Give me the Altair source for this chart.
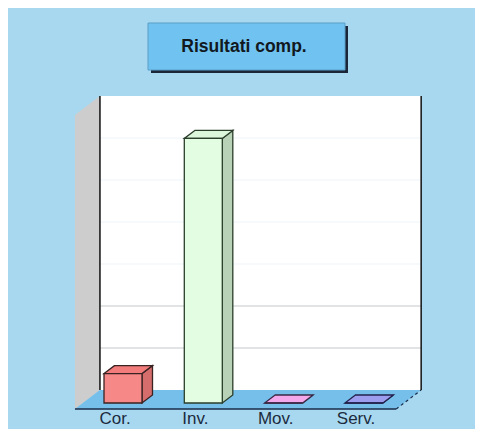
import altair as alt
import pandas as pd

# ---------------- data ----------------
categories = ["Cor.", "Inv.", "Mov.", "Serv."]
values = [7, 63, 0, 0]
front_colors = ["#f68888", "#e3fde3", "#f3a8ec", "#9d9df0"]
side_colors = ["#d56d6d", "#b8d2b8", "#d88cd2", "#8080d2"]
top_colors = ["#f27c7c", "#dbf6db", "#f3a8ec", "#9d9df0"]
outline_colors = ["#3a2222", "#2b3e2b", "#3a2a46", "#22224c"]

grid_values = [10, 20, 30, 40, 50, 60]
grid_colors = ["#c3c7c9", "#c3c7c9", "#eef6f9", "#eef6f9", "#eef6f9", "#eef6f9"]
axis_max = 70
title_text = "Risultati comp."

# ---------------- geometry of the pseudo-3D frame ----------------
W, H = 467, 421
PX_X = 80.3        # px per category slot
X0 = 115           # px of first category centre (bar front plane)
PX_V = 4.2         # px per value unit
Y0 = 395           # px of value 0 on bar front plane
DEPTH_DX, DEPTH_DY = 25, 19   # px shift from floor front to back wall
D0 = 6 / 19        # depth of bar front plane
BAR_DEPTH = 0.42
HALF_W = 19 / PX_X

xs = alt.Scale(domain=[(0 - X0) / PX_X, (W - X0) / PX_X], nice=False, zero=False)
ys = alt.Scale(domain=[(Y0 - H) / PX_V, Y0 / PX_V], nice=False, zero=False)


def P(x, v, d):
    return x + (d - D0) * DEPTH_DX / PX_X, v + (d - D0) * DEPTH_DY / PX_V


def X(f="x"):
    return alt.X(f"{f}:Q", scale=xs, axis=None)


def Y(f="y"):
    return alt.Y(f"{f}:Q", scale=ys, axis=None)


XL, XR = -0.5, len(categories) - 0.5

# left wall
lw = pd.DataFrame([{"x": P(XL, 0, d)[0], "y": P(XL, axis_max, d)[1], "y2": P(XL, 0, d)[1]} for d in (0, 1)])
left_wall = alt.Chart(lw).mark_area(color="#cdcdcd", orient="vertical").encode(
    x=X(), y=Y(), y2=alt.Y2("y2"))

# back wall
bw = pd.DataFrame([{"x": P(XL, 0, 1)[0], "x2": P(XR, 0, 1)[0],
                    "y": P(XL, 0, 1)[1], "y2": P(XL, axis_max, 1)[1]}])
back_wall = alt.Chart(bw).mark_rect(color="#ffffff").encode(
    x=X(), x2=alt.X2("x2"), y=Y(), y2=alt.Y2("y2"))

# gridlines
gd = pd.DataFrame([{"x": P(XL, g, 1)[0], "x2": P(XR, g, 1)[0], "y": P(XL, g, 1)[1], "c": c}
                   for g, c in zip(grid_values, grid_colors)])
grid = alt.Chart(gd).mark_rule(strokeWidth=1.2).encode(
    x=X(), x2=alt.X2("x2"), y=Y(), color=alt.Color("c:N", scale=None))

# back wall edges
ed = pd.DataFrame([{"x": P(xx, 0, 1)[0], "y": P(xx, 0, 1)[1], "y2": P(xx, axis_max, 1)[1]} for xx in (XL, XR)])
edges = alt.Chart(ed).mark_rule(color="#111111", strokeWidth=1.5).encode(
    x=X(), y=Y(), y2=alt.Y2("y2"))

# floor
fl = pd.DataFrame([{"y": P(XL, 0, d)[1], "x": P(XL, 0, d)[0], "x2": P(XR, 0, d)[0]} for d in (0, 1)])
floor = alt.Chart(fl).mark_area(color="#76bfea", orient="horizontal").encode(
    y=Y(), x=X(), x2=alt.X2("x2"))

fr = pd.DataFrame([{"x": P(XL, 0, 0)[0], "x2": P(XR, 0, 0)[0], "y": P(XL, 0, 0)[1]}])
front_line = alt.Chart(fr).mark_rule(color="#1a2d4a", strokeWidth=1.6).encode(
    x=X(), x2=alt.X2("x2"), y=Y())

dl = pd.DataFrame([{"x": P(XR, 0, d)[0], "y": P(XR, 0, d)[1]} for d in (0, 1)])
dash_line = alt.Chart(dl).mark_line(color="#1a2d4a", strokeWidth=1.2, strokeDash=[3, 3]).encode(
    x=X(), y=Y())

# bars
side_rows, top_rows, front_rows = [], [], []
for i, (cat, v) in enumerate(zip(categories, values)):
    for d in (D0, D0 + BAR_DEPTH):
        side_rows.append({"cat": cat, "x": P(i + HALF_W, 0, d)[0], "y": P(i, v, d)[1],
                          "y2": P(i, 0, d)[1], "f": side_colors[i], "s": outline_colors[i]})
        top_rows.append({"cat": cat, "y": P(i, v, d)[1], "x": P(i - HALF_W, v, d)[0],
                         "x2": P(i + HALF_W, v, d)[0], "f": top_colors[i], "s": outline_colors[i]})
    front_rows.append({"cat": cat, "x": i - HALF_W, "x2": i + HALF_W, "y": v, "y2": 0,
                       "f": front_colors[i], "s": outline_colors[i]})

sides = alt.Chart(pd.DataFrame(side_rows)).mark_area(orient="vertical", strokeWidth=1.3).encode(
    x=X(), y=Y(), y2=alt.Y2("y2"), fill=alt.Fill("f:N", scale=None),
    stroke=alt.Stroke("s:N", scale=None), detail="cat:N")
tops = alt.Chart(pd.DataFrame(top_rows)).mark_area(orient="horizontal", strokeWidth=1.3).encode(
    y=Y(), x=X(), x2=alt.X2("x2"), fill=alt.Fill("f:N", scale=None),
    stroke=alt.Stroke("s:N", scale=None), detail="cat:N")
fronts = alt.Chart(pd.DataFrame(front_rows)).mark_rect(strokeWidth=1.3).encode(
    x=X(), x2=alt.X2("x2"), y=Y(), y2=alt.Y2("y2"), fill=alt.Fill("f:N", scale=None),
    stroke=alt.Stroke("s:N", scale=None))

# category labels (on the floor front edge)
lb = pd.DataFrame([{"x": P(i, 0, 0)[0], "t": c} for i, c in enumerate(categories)])
labels = alt.Chart(lb).mark_text(font="Liberation Sans", fontSize=17, color="#1c2b3d",
                                 baseline="alphabetic", align="center").encode(
    x=X(), y=alt.value(416), text="t:N")

# title box
one = pd.DataFrame([{"t": title_text}])
shadow = alt.Chart(one).mark_rect(color="#1b2738").encode(
    x=alt.value(143), x2=alt.value(340), y=alt.value(18), y2=alt.value(65))
box = alt.Chart(one).mark_rect(color="#70c2f0", stroke="#5a9fc8", strokeWidth=1).encode(
    x=alt.value(140), x2=alt.value(337), y=alt.value(15), y2=alt.value(62))
title = alt.Chart(one).mark_text(font="Liberation Sans", fontSize=17.5, fontWeight="bold",
                                 color="#111820", baseline="middle", align="center").encode(
    x=alt.value(236), y=alt.value(39), text="t:N")

chart = alt.layer(
    left_wall, back_wall, grid, edges, floor, front_line, dash_line,
    sides, tops, fronts, labels, shadow, box, title
).properties(
    width=W, height=H, background="#a8d8f0", padding=0,
    autosize=alt.AutoSizeParams(type="none")
).configure_view(stroke=None)

chart.save("out.html", embed_options={"renderer": "svg", "actions": False})
